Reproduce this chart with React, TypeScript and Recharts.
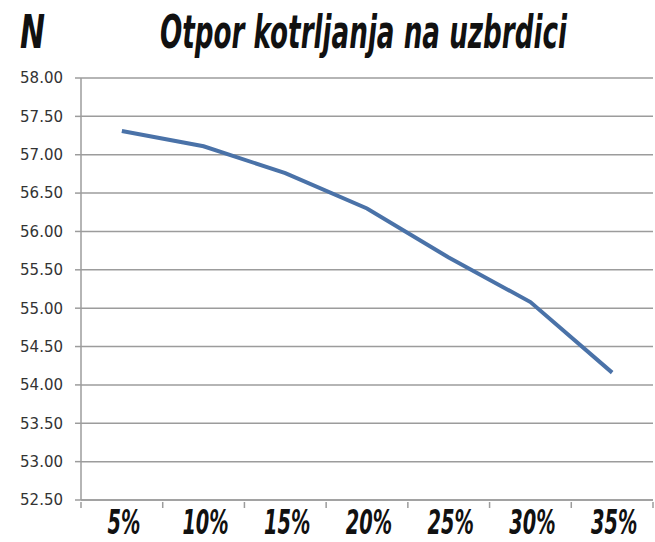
import React from "react";
import { LineChart, Line, CartesianGrid, XAxis, YAxis } from "recharts";

const slopes = ["5%", "10%", "15%", "20%", "25%", "30%", "35%"];
const resistance = [57.31, 57.11, 56.76, 56.3, 55.66, 55.08, 54.16];
const yTicks = [52.5, 53, 53.5, 54, 54.5, 55, 55.5, 56, 56.5, 57, 57.5, 58];

const data = slopes.map((s, i) => ({ slope: s, value: resistance[i] }));

const titleFont = "'DejaVu Sans', sans-serif";
const gridGrey = "#9c9c9c";

// label in the narrow italic style + tick marks on the band edges
const SlopeTick = (props: any) => {
    const { x, y, payload, index, width, visibleTicksCount } = props;
    const half = payload.offset || width / visibleTicksCount / 2;
    const last = index === visibleTicksCount - 1;
    return (
        <g>
            <line x1={x - half} x2={x - half} y1={y} y2={y + 6} stroke={gridGrey} strokeWidth={1.5} />
            {last && <line x1={x + half} x2={x + half} y1={y} y2={y + 6} stroke={gridGrey} strokeWidth={1.5} />}
            <text
                transform={`translate(${x + 2},${y + 32}) scale(0.57,1)`}
                textAnchor="middle"
                fontFamily={titleFont}
                fontWeight="bold"
                fontStyle="italic"
                fontSize={34}
                fill="#111"
            >
                {payload.value}
            </text>
        </g>
    );
};

const App: React.FC = () => {
    return (
        <div style={{ position: "absolute", left: 0, top: 0, width: 655, height: 542, background: "#fff" }}>
            {/* title and unit */}
            <svg width={655} height={70} style={{ position: "absolute", left: 0, top: 0 }}>
                <text transform="translate(20,48) scale(0.65,1)" fontFamily={titleFont} fontWeight="bold"
                    fontStyle="italic" fontSize={46} fill="#111">N</text>
                <text transform="translate(160,48) scale(0.57,1)" fontFamily={titleFont} fontWeight="bold"
                    fontStyle="italic" fontSize={46} fill="#111">Otpor kotrljanja na uzbrdici</text>
            </svg>
            <LineChart width={655} height={542} data={data} margin={{ top: 78, right: 2, left: 0, bottom: 0 }}>
                <CartesianGrid vertical={false} stroke={gridGrey} strokeWidth={1.5} />
                <XAxis
                    dataKey="slope"
                    scale="band"
                    height={42}
                    axisLine={{ stroke: gridGrey, strokeWidth: 1.5 }}
                    tickLine={false}
                    tickSize={0}
                    tick={<SlopeTick />}
                    interval={0}
                />
                <YAxis
                    width={81}
                    domain={[52.5, 58]}
                    ticks={yTicks}
                    interval={0}
                    tickFormatter={(v: number) => v.toFixed(2)}
                    axisLine={{ stroke: gridGrey, strokeWidth: 1.5 }}
                    tickLine={{ stroke: gridGrey, strokeWidth: 1.5 }}
                    tickSize={6}
                    tickMargin={12}
                    tick={{ fill: "#333", fontSize: 15, fontFamily: "'DejaVu Sans', sans-serif" }}
                />
                <Line
                    type="linear"
                    dataKey="value"
                    stroke="#4a72a8"
                    strokeWidth={4}
                    dot={false}
                    activeDot={false}
                    isAnimationActive={false}
                />
            </LineChart>
        </div>
    );
};

export default App;
